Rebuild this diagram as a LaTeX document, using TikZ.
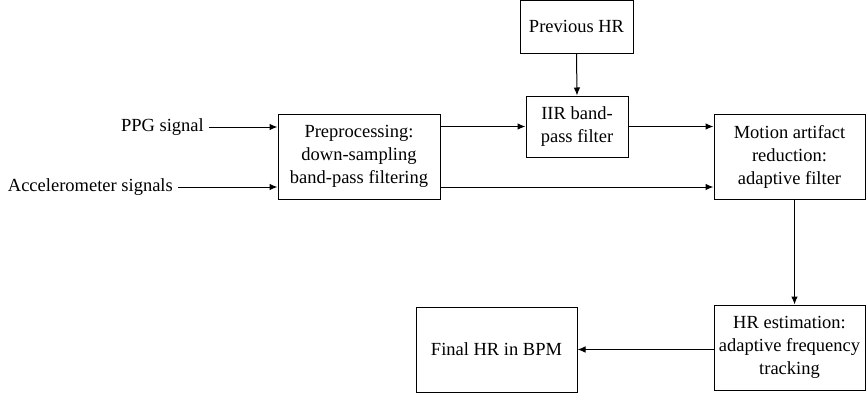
\documentclass[tikz,border=0pt]{standalone}
\usepackage{fontspec}
\setmainfont{Liberation Serif}
\usepackage{tikz}
\usetikzlibrary{arrows.meta}

\tikzset{
	blockbox/.style = {draw, line width = 1pt, align = center, inner sep = 2pt},
	signallabel/.style = {anchor = east, inner xsep = 5pt, inner ysep = 2pt},
	flow/.style = {line width = 1pt, -{Latex[length = 8pt, width = 6.5pt]}}
}

\begin{document}
\begin{tikzpicture}[x = 1pt, y = -1pt, font = \fontsize{18.5}{23}\selectfont]
							\useasboundingbox (0, 0) rectangle (866, 396);
							\node (pre) at (359, 156.5) [blockbox, minimum width = 162pt, minimum height = 85pt] {Preprocessing:\\down-sampling\\band-pass filtering};
							\node (prev) at (576.5, 26.8) [blockbox, minimum width = 113pt, minimum height = 52.5pt] {Previous HR};
							\node (iir) at (577, 126.5) [blockbox, minimum width = 102pt, minimum height = 61pt] {IIR band-\\pass filter};
							\node (motion) at (789.5, 156.5) [blockbox, minimum width = 151pt, minimum height = 85pt] {Motion artifact\\reduction:\\adaptive filter};
							\node (hrest) at (789.5, 347.5) [blockbox, minimum width = 151pt, minimum height = 85pt] {HR estimation:\\adaptive frequency\\tracking};
							\node (final) at (496.5, 349.5) [blockbox, minimum width = 161pt, minimum height = 85pt] {Final HR in BPM};
							\node (ppg) at (209, 127) [signallabel] {PPG signal};
							\node (acc) at (178, 187) [signallabel] {Accelerometer signals};
							\draw[flow] (ppg.east) -- (ppg -| pre.west);
							\draw[flow] (acc.east) -- (acc -| pre.west);
							\draw[flow] (pre.east |- iir) -- (iir.west);
							\draw[flow] (prev.south) -- (iir.north);
							\draw[flow] (iir.east) -- (iir -| motion.west);
							\draw[flow] (pre.east |- acc) -- (acc -| motion.west);
							\draw[flow] ([xshift = 5pt]motion.south) -- ([xshift = 5pt]hrest.north);
							\draw[flow] (hrest.west |- final) -- (final.east);
						\end{tikzpicture}
\end{document}
